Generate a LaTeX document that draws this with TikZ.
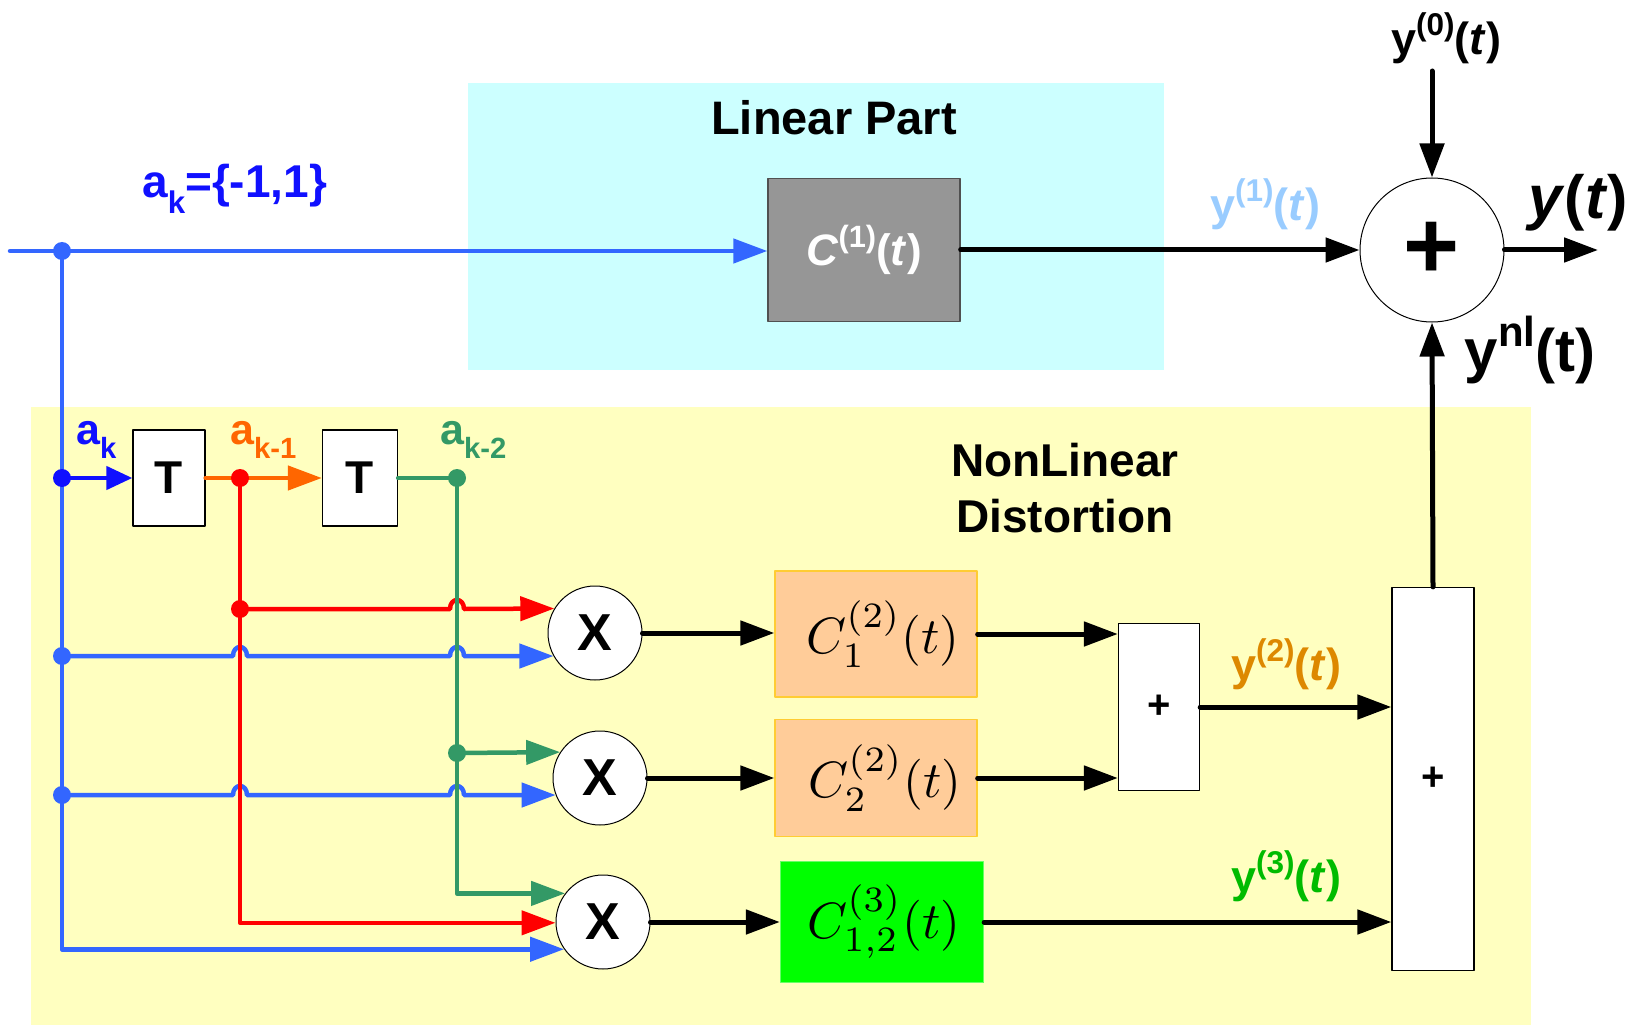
\documentclass[tikz,border=0pt]{standalone}
\usepackage[no-math]{fontspec}
\usepackage{graphicx}
\setmainfont{Liberation Sans}
\usetikzlibrary{arrows.meta}
\definecolor{cyanbg}{RGB}{204,255,255}
\definecolor{yelbg}{RGB}{255,255,192}
\definecolor{lblue}{RGB}{51,102,255}
\definecolor{dblue}{RGB}{16,16,255}
\definecolor{lred}{RGB}{255,0,0}
\definecolor{orng}{RGB}{255,102,0}
\definecolor{grn}{RGB}{51,153,102}
\definecolor{grayfill}{RGB}{150,150,150}
\definecolor{grayline}{RGB}{80,80,80}
\definecolor{peach}{RGB}{255,204,153}
\definecolor{peachb}{RGB}{255,204,51}
\definecolor{brgreen}{RGB}{0,255,0}
\definecolor{brgreenb}{RGB}{102,255,102}
\definecolor{ylight}{RGB}{153,204,255}
\definecolor{ygold}{RGB}{221,136,0}
\definecolor{ygreen}{RGB}{0,187,0}
\newcommand\mysub[1]{\raisebox{-0.34em}{\scalebox{0.68}{#1}}}
\newcommand\mysup[1]{\raisebox{0.42em}{\scalebox{0.7}{#1}}}
\newcommand\bigmath[1]{\fontsize{10}{12}\selectfont\scalebox{5.1}{$#1$}}
\tikzset{
  fs/.style={font=\fontsize{#1}{#1}\selectfont\bfseries},
  arr/.style={-{Triangle[length=34pt,width=24pt]}},
  arrs/.style={-{Triangle[length=26pt,width=23pt]}},
  wire/.style={line width=4.5pt},
  bwire/.style={line width=5pt,black,line cap=round},
  tbox/.style={draw=black,fill=white,line width=1.3pt,inner sep=0pt,fs=46},
  sbox/.style={draw=black,fill=white,line width=1.3pt,inner sep=0pt,fs=40},
  cbox/.style={draw=peachb,fill=peach,line width=1.3pt,inner sep=0pt,minimum width=202pt},
  mult/.style={circle,draw=black,fill=white,line width=1pt,minimum size=94pt,inner sep=0pt,fs=52},
}
\begin{document}
\begin{tikzpicture}[x=1pt,y=-1pt,line join=round]
\useasboundingbox (0,0) rectangle (1639,1027);
% backgrounds
\fill[cyanbg] (468,83) rectangle (1164,370);
\fill[yelbg] (31,407) rectangle (1531,1025);
% titles
\node[fs=47] (lp) at (834,118) {Linear Part};
\node[fs=46,align=center,text depth=0pt] (nl) at (1065,488) {NonLinear\\[10pt]Distortion};
% blocks
\node[draw=grayline,fill=grayfill,line width=1.3pt,minimum width=192pt,minimum height=143pt,inner sep=0pt,text=white,fs=44] (c1) at (864,250) {\textit{C}\mysup{(1)}(\textit{t})};
\node[circle,draw=black,fill=white,line width=1pt,minimum size=144pt,inner sep=0pt,fs=96] (sum) at (1432,250) {+};
\node[tbox,minimum width=72pt,minimum height=96pt] (t1) at (169,478) {T};
\node[tbox,minimum width=75pt,minimum height=96pt] (t2) at (360,478) {T};
\node[mult] (x1) at (595,633) {X};
\node[mult] (x2) at (600,778) {X};
\node[mult] (x3) at (603,922) {X};
\node[cbox,minimum height=126pt] (c12) at (876,634) {\hspace{14pt}\bigmath{C_1^{(2)}(t)}};
\node[cbox,minimum height=117pt] (c22) at (876,778) {\hspace{18pt}\bigmath{C_2^{(2)}(t)}};
\node[draw=brgreenb,fill=brgreen,line width=1.3pt,inner sep=0pt,minimum width=203pt,minimum height=121pt] (c3) at (882,922) {\hspace{4pt}\bigmath{C_{1,2}^{(3)}(t)}};
\node[sbox,minimum width=81pt,minimum height=167pt] (pb) at (1159,707) {+};
\node[sbox,minimum width=82pt,minimum height=383pt] (bb) at (1433,779) {+};
% coordinates
\coordinate (in) at (10,251);
\coordinate (d0) at (62,251);
\coordinate (d1) at (62,478);
\coordinate (d2) at (62,656);
\coordinate (d3) at (62,795);
\coordinate (r0) at (240,478);
\coordinate (r1) at (240,609);
\coordinate (g0) at (457,478);
\coordinate (g1) at (457,753);
\coordinate (y0s) at (1432,71);
\coordinate (yout) at (1598,250);
% blue wires
\draw[wire,lblue,arr,line cap=round] (in) -- (c1.west |- in);
\draw[wire,lblue,arr] (d0) |- (x3.215.1);
\draw[wire,lblue,arr] (d2) -- (233,656) .. controls (233,644) and (247,644) .. (247,656)
  -- (450,656) .. controls (450,644) and (464,644) .. (464,656) -- (x1.209.3);
\draw[wire,lblue,arr] (d3) -- (233,795) .. controls (233,783) and (247,783) .. (247,795)
  -- (450,795) .. controls (450,783) and (464,783) .. (464,795) -- (x2.201.2);
\draw[wire,dblue,arrs] (d1) -- (t1.west);
% orange / red wires
\draw[wire,orng,line cap=round] (t1.east) -- (r0);
\draw[wire,orng,arr] (r0) -- (t2.west);
\draw[wire,lred,arr] (r0) |- (x3.181.2);
\draw[wire,lred,arr] (r1) -- (450,609) .. controls (450,597) and (464,597) .. (464,609) -- (x1.149.3);
% green wires
\draw[wire,grn,line cap=round] (t2.east) -- (g0);
\draw[wire,grn,arr] (g0) |- (x3.143.4);
\draw[wire,grn,arr] (g1) -- (x2.147.9);
% dots
\fill[lblue] (d0) circle[radius=9];
\fill[dblue] (d1) circle[radius=9];
\fill[lblue] (d2) circle[radius=9];
\fill[lblue] (d3) circle[radius=9];
\fill[lred] (r0) circle[radius=9];
\fill[lred] (r1) circle[radius=9];
\fill[grn] (g0) circle[radius=9];
\fill[grn] (g1) circle[radius=9];
% black wires
\draw[bwire,arr] (c1.east) -- (sum.west);
\draw[bwire,arr] (y0s) -- (sum.north);
\draw[bwire,arr] (sum.east) -- (yout);
\draw[bwire,arr] (x1.east) -- (c12.west |- x1.east);
\draw[bwire,arr] (x2.east) -- (c22.west |- x2.east);
\draw[bwire,arr] (x3.east) -- (c3.west |- x3.east);
\draw[bwire,arr] (c12.east) -- (c12.east -| pb.west);
\draw[bwire,arr] (c22.east) -- (c22.east -| pb.west);
\draw[bwire,arr] (pb.east) -- (pb.east -| bb.west);
\draw[bwire,arr] (c3.east) -- (c3.east -| bb.west);
\draw[bwire,arr] (bb.north) -- (sum.south);
% labels
\node[fs=46,text=dblue,anchor=base west,inner sep=0pt] (lak) at (142,198) {a\mysub{k}=\{-1,1\}};
\node[fs=43,text=dblue,anchor=base west,inner sep=0pt] (l1) at (76,444) {a\mysub{k}};
\node[fs=43,text=orng,anchor=base west,inner sep=0pt] (l2) at (230,444) {a\mysub{k-1}};
\node[fs=43,text=grn,anchor=base west,inner sep=0pt] (l3) at (440,444) {a\mysub{k-2}};
\node[fs=45] (ly0) at (1446,38) {y\mysup{(0)}(\textit{t})};
\node[fs=45,text=ylight] (ly1) at (1265,204) {y\mysup{(1)}(\textit{t})};
\node[fs=61] (ly) at (1578,203) {\textit{y}(\textit{t})};
\node[fs=60] (lynl) at (1530,350) {y\mysup{nl}(t)};
\node[fs=45,text=ygold] (ly2) at (1286,664) {y\mysup{(2)}(\textit{t})};
\node[fs=45,text=ygreen] (ly3) at (1286,876) {y\mysup{(3)}(\textit{t})};
\end{tikzpicture}
\end{document}
